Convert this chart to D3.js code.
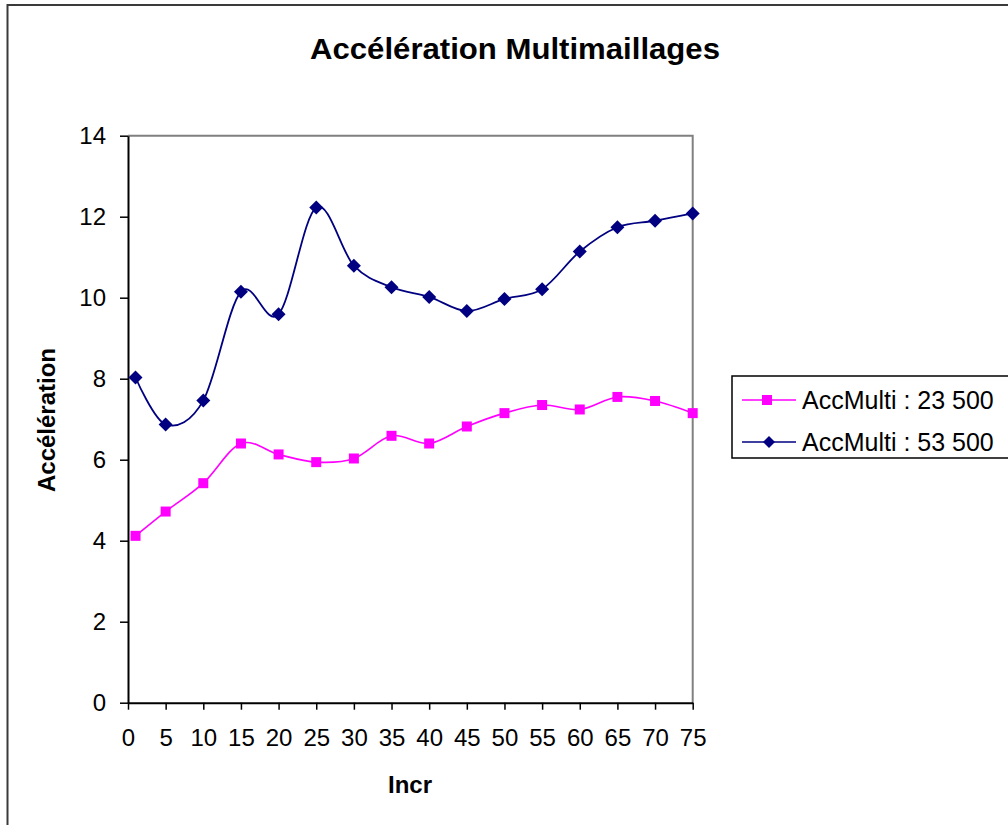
<!DOCTYPE html>
<html><head><meta charset="utf-8">
<script src="https://cdn.jsdelivr.net/npm/d3@7"></script>
<style>html,body{margin:0;padding:0;background:#fff;overflow:hidden}</style>
</head><body>
<svg id="chart" width="1008" height="825"></svg>
<script>
const incr = [1, 5, 10, 15, 20, 25, 30, 35, 40, 45, 50, 55, 60, 65, 70, 75];
const acc23500 = [4.12, 4.72, 5.42, 6.40, 6.13, 5.94, 6.03, 6.59, 6.40, 6.82, 7.15, 7.35, 7.24, 7.55, 7.45, 7.15];
const acc53500 = [8.03, 6.87, 7.46, 10.15, 9.59, 12.23, 10.79, 10.26, 10.02, 9.67, 9.97, 10.21, 11.14, 11.74, 11.90, 12.08];
const xTicks = [0, 5, 10, 15, 20, 25, 30, 35, 40, 45, 50, 55, 60, 65, 70, 75];
const yTicks = [0, 2, 4, 6, 8, 10, 12, 14];
const seriesNames = ["AccMulti : 23 500", "AccMulti : 53 500"];
const titleText = "Accélération Multimaillages";
const xLabel = "Incr";
const yLabel = "Accélération";

const svg = d3.select("#chart");
const F = "'Liberation Sans', Arial, sans-serif";

// outer chart border
svg.append("rect").attr("x", 7.5).attr("y", 5).attr("width", 1030).attr("height", 850)
  .attr("fill", "#fff").attr("stroke", "#3a3a3a").attr("stroke-width", 2);

const L = 128, R = 692.7, T = 135.7, B = 702.7;
const x = d3.scaleLinear().domain([0, 75]).range([L, R]);
const y = d3.scaleLinear().domain([0, 14]).range([B, T]);

// plot area frame (top/right gray)
svg.append("path").attr("d", `M${L},${T}H${R}V${B}`).attr("fill", "none")
  .attr("stroke", "#808080").attr("stroke-width", 2);

// axes
const xAxis = d3.axisBottom(x).tickValues(xTicks).tickSize(7).tickSizeOuter(0).tickPadding(19);
const yAxis = d3.axisLeft(y).tickValues(yTicks).tickSize(8).tickSizeOuter(0).tickPadding(14);
const gx = svg.append("g").attr("transform", `translate(0,${B})`).call(xAxis);
const gy = svg.append("g").attr("transform", `translate(${L},0)`).call(yAxis);
[gx, gy].forEach(g => {
  g.selectAll("path.domain").attr("stroke", "#000").attr("stroke-width", 2);
  g.selectAll(".tick line").attr("stroke", "#000").attr("stroke-width", 1.5);
  g.selectAll(".tick text").attr("font-family", F).attr("font-size", 24).attr("fill", "#000");
});
gx.selectAll(".tick text").attr("dy", "0.71em");

// lines
const line = d3.line().x((d, i) => x(incr[i])).y(d => y(d)).curve(d3.curveCardinal.tension(0));
svg.append("path").datum(acc23500).attr("d", line).attr("fill", "none")
  .attr("stroke", "#ff00ff").attr("stroke-width", 1.6);
svg.append("path").datum(acc53500).attr("d", line).attr("fill", "none")
  .attr("stroke", "#000080").attr("stroke-width", 1.8);

// markers
const sq = 10, dm = 7;
svg.append("g").selectAll("rect").data(acc23500).join("rect")
  .attr("x", (d, i) => x(incr[i]) - sq / 2).attr("y", d => y(d) - sq / 2)
  .attr("width", sq).attr("height", sq).attr("fill", "#ff00ff");
const diamond = (cx, cy, r) => `M${cx},${cy - r}L${cx + r},${cy}L${cx},${cy + r}L${cx - r},${cy}Z`;
svg.append("g").selectAll("path").data(acc53500).join("path")
  .attr("d", (d, i) => diamond(x(incr[i]), y(d), dm)).attr("fill", "#000080");

// title
svg.append("text").attr("x", 515).attr("y", 59).attr("text-anchor", "middle")
  .attr("font-family", F).attr("font-weight", "bold").attr("font-size", 29)
  .attr("textLength", 410).attr("lengthAdjust", "spacingAndGlyphs").text(titleText);

// axis titles
svg.append("text").attr("x", 410).attr("y", 793).attr("text-anchor", "middle")
  .attr("font-family", F).attr("font-weight", "bold").attr("font-size", 24).text(xLabel);
svg.append("text").attr("transform", "translate(55,420) rotate(-90)").attr("text-anchor", "middle")
  .attr("font-family", F).attr("font-weight", "bold").attr("font-size", 24).text(yLabel);

// legend
const lg = svg.append("g");
lg.append("rect").attr("x", 732).attr("y", 376).attr("width", 300).attr("height", 82)
  .attr("fill", "#fff").attr("stroke", "#000").attr("stroke-width", 1.5);
const legendColors = ["#ff00ff", "#000080"];
seriesNames.forEach((name, i) => {
  const ly = 400 + i * 42;
  lg.append("line").attr("x1", 742).attr("x2", 796).attr("y1", ly).attr("y2", ly)
    .attr("stroke", legendColors[i]).attr("stroke-width", 1.5);
  if (i === 0) {
    lg.append("rect").attr("x", 767 - sq / 2).attr("y", ly - sq / 2).attr("width", sq).attr("height", sq)
      .attr("fill", legendColors[i]);
  } else {
    lg.append("path").attr("d", diamond(769, ly, 6)).attr("fill", legendColors[i]);
  }
  lg.append("text").attr("x", 802).attr("y", ly + 9).attr("font-family", F).attr("font-size", 25)
    .attr("fill", "#000").text(name);
});
</script>
</body></html>
